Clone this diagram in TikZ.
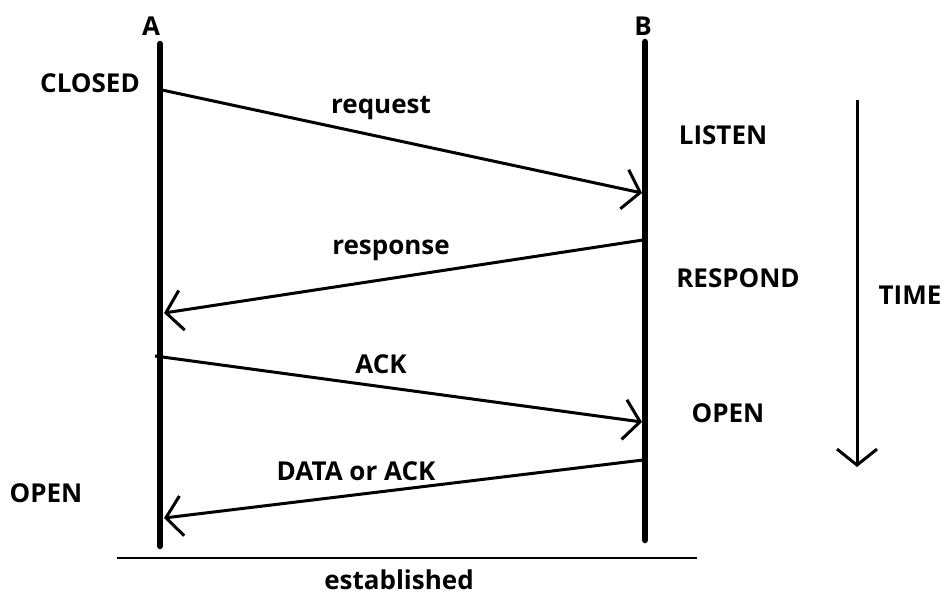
\documentclass[tikz,border=0pt]{standalone}
\usepackage{fontspec}
\setmainfont{Open Sans}
\usetikzlibrary{arrows.meta}
\begin{document}
\begin{tikzpicture}[x=1pt,y=-1pt,
  lbl/.style={font=\fontsize{26}{30}\selectfont\bfseries, inner sep=0pt, anchor=center},
  life/.style={line width=6.5pt, line cap=round},
  msg/.style={line width=3pt, -{Straight Barb[length=16pt,width=40pt,line width=3pt]}},
  base/.style={line width=2.6pt}]
\useasboundingbox[fill=white] (0,0) rectangle (944,604);
% lifelines
\coordinate (Atop) at (160,44);
\coordinate (Abot) at (160,546);
\coordinate (Btop) at (645,42);
\coordinate (Bbot) at (645,540);
\draw[life] (Atop) -- (Abot);
\draw[life] (Btop) -- (Bbot);
\node[lbl] (A) at (151,26) {A};
\node[lbl] (B) at (643,26) {B};
% base line
\coordinate (L1) at (117,558);
\coordinate (L2) at (697,558);
\draw[base] (L1) -- (L2);
\node[lbl] (est) at (399,580) {established};
% states
\node[lbl] (closed) at (90,83) {CLOSED};
\node[lbl] (listen) at (723,135) {LISTEN};
\node[lbl] (respond) at (738,278) {RESPOND};
\node[lbl] (openB) at (728,413) {OPEN};
\node[lbl] (openA) at (46,493) {OPEN};
% messages
\coordinate (m1s) at (162,90);
\coordinate (m1e) at (642,193);
\coordinate (m2s) at (643,240);
\coordinate (m2e) at (164,313);
\coordinate (m3s) at (155,356);
\coordinate (m3e) at (642,422);
\coordinate (m4s) at (643,460);
\coordinate (m4e) at (164,518);
\draw[msg] (m1s) -- (m1e);
\draw[msg] (m2s) -- (m2e);
\draw[msg] (m3s) -- (m3e);
\draw[msg] (m4s) -- (m4e);
\node[lbl] (req) at (381,108) {request};
\node[lbl] (resp) at (391,250) {response};
\node[lbl] (ack) at (381,364) {ACK};
\node[lbl] (data) at (356,471) {DATA or ACK};
% time arrow
\coordinate (t1) at (857,100);
\coordinate (t2) at (857,467);
\draw[msg] (t1) -- (t2);
\node[lbl] (time) at (910,295) {TIME};
\end{tikzpicture}
\end{document}
